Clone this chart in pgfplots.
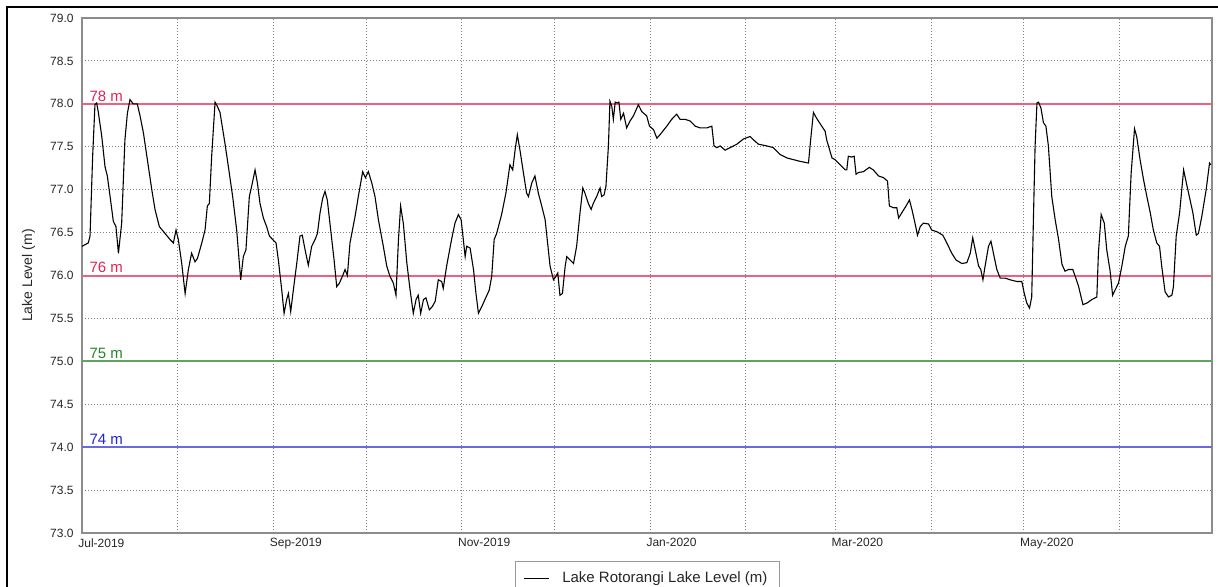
\documentclass[border=0pt]{standalone}
\usepackage{pgfplots}
\pgfplotsset{compat=1.18}
\usepackage{fontspec}
\setmainfont{Liberation Sans}

\definecolor{refred}{RGB}{226,36,84}
\definecolor{redline}{RGB}{236,96,128}
\definecolor{refgreen}{RGB}{40,130,40}
\definecolor{greenline}{RGB}{95,165,95}
\definecolor{refblue}{RGB}{35,35,210}
\definecolor{blueline}{RGB}{105,105,230}

% lake level, x = days since 1 Jul 2019
\pgfplotstableread{
day level
0 76.34
2.05 76.38
2.6 76.46
3.45 77.39
4.2 77.99
4.75 78.01
5.3 77.90
6.4 77.62
7.45 77.27
8.2 77.16
9.1 76.92
10.15 76.63
11.0 76.57
11.8 76.26
12.85 76.61
13.9 77.58
14.7 77.89
15.55 78.05
16.6 78.00
17.9 78.00
18.8 77.86
19.9 77.66
21.5 77.27
22.6 77.00
23.65 76.77
25.05 76.57
26.9 76.49
28.5 76.42
29.6 76.38
30.45 76.53
31.2 76.42
32.3 76.14
33.4 75.79
34.45 76.07
35.5 76.26
36.6 76.16
37.4 76.20
38.8 76.38
39.85 76.53
40.6 76.81
41.25 76.84
42.0 77.39
43.1 78.02
43.85 77.97
44.7 77.90
46.3 77.54
47.4 77.27
48.8 76.92
50.1 76.53
51.4 75.95
52.25 76.22
53.1 76.30
54.2 76.92
54.95 77.04
56.05 77.23
56.8 77.08
57.65 76.84
58.75 76.67
59.8 76.57
60.7 76.46
61.75 76.42
62.85 76.38
63.6 76.18
64.7 75.83
65.45 75.56
66.3 75.72
66.85 75.79
67.6 75.58
68.45 75.83
69.55 76.14
70.6 76.46
71.35 76.47
72.25 76.30
73.3 76.12
74.4 76.34
75.5 76.42
76.25 76.49
77.1 76.73
77.95 76.90
78.7 76.98
79.45 76.88
80.55 76.53
81.65 76.18
82.5 75.87
83.35 75.91
84.45 76.00
85.2 76.07
85.95 76.00
86.8 76.38
88.45 76.69
89.5 76.92
90.9 77.21
91.8 77.14
92.75 77.21
93.85 77.08
94.9 76.92
96.0 76.65
97.6 76.34
98.7 76.11
99.75 75.99
100.85 75.91
101.7 75.77
102.5 76.42
103.2 76.81
104.1 76.60
105.2 76.15
106.2 75.85
107.3 75.56
108.2 75.72
108.9 75.77
109.7 75.56
110.6 75.72
111.4 75.74
112.5 75.60
113.5 75.64
114.4 75.70
115.4 75.95
116.5 75.93
117.0 75.85
118.1 76.11
119.7 76.42
120.8 76.61
121.9 76.71
122.8 76.65
123.5 76.42
124.1 76.22
124.6 76.34
125.7 76.32
126.8 76.07
127.6 75.79
128.4 75.56
129.5 75.64
130.5 75.72
131.9 75.83
132.7 75.99
133.5 76.42
134.3 76.49
135.9 76.71
137.3 76.96
138.6 77.29
139.5 77.23
140.3 77.47
141.0 77.64
141.9 77.45
143.0 77.19
144.0 76.96
144.6 76.92
145.7 77.08
146.7 77.16
147.8 76.96
148.9 76.81
150.0 76.65
150.8 76.38
151.6 76.11
152.7 75.95
153.5 75.99
154.1 76.03
154.8 75.77
155.6 75.79
156.5 76.11
157.0 76.22
158.1 76.18
159.2 76.14
160.2 76.34
161.3 76.73
162.2 77.02
162.9 76.96
164.0 76.84
164.9 76.77
165.6 76.84
166.7 76.92
167.8 77.02
168.3 76.92
169.1 76.94
169.7 77.04
170.5 77.51
171.0 78.03
171.6 77.97
172.1 77.82
172.7 78.02
173.4 78.01
173.9 78.02
174.5 77.82
175.4 77.89
176.4 77.72
177.5 77.80
178.6 77.86
180.2 77.99
181.3 77.91
182.9 77.86
183.8 77.74
185.1 77.70
186.2 77.60
187.2 77.64
189.4 77.74
191.0 77.82
192.6 77.88
193.7 77.82
195.3 77.82
197.0 77.80
198.6 77.74
200.2 77.72
202.4 77.72
204.0 77.74
204.7 77.51
205.6 77.49
206.7 77.51
208.3 77.46
209.9 77.49
212.1 77.53
214.2 77.59
216.4 77.62
217.5 77.58
219.1 77.53
221.8 77.51
223.9 77.49
226.1 77.41
228.3 77.37
230.4 77.35
232.6 77.33
235.3 77.31
236.0 77.58
236.9 77.90
237.8 77.84
238.5 77.80
239.6 77.74
240.7 77.68
241.2 77.58
242.1 77.47
242.9 77.37
243.9 77.35
245.0 77.31
246.1 77.27
247.2 77.23
247.7 77.23
248.2 77.39
249.3 77.38
250.1 77.39
250.7 77.18
251.5 77.20
253.1 77.21
255.0 77.26
256.3 77.23
258.0 77.16
259.6 77.14
260.9 77.10
261.5 76.81
262.8 76.79
263.9 76.79
264.5 76.67
265.5 76.73
266.9 76.81
268.0 76.88
268.8 76.77
269.8 76.61
270.6 76.47
271.5 76.57
272.5 76.61
274.2 76.60
275.2 76.53
276.9 76.51
278.8 76.47
280.1 76.38
281.7 76.26
283.1 76.18
285.0 76.14
286.6 76.15
287.7 76.26
288.5 76.44
289.3 76.30
290.4 76.11
291.1 76.07
291.8 75.95
292.5 76.11
293.6 76.34
294.4 76.40
295.2 76.26
296.3 76.07
297.4 75.97
299.0 75.97
300.6 75.95
302.8 75.93
304.4 75.93
305.2 75.79
306.0 75.68
306.9 75.62
307.6 75.75
308.2 76.73
308.7 77.51
309.3 78.01
309.8 78.02
310.6 77.95
311.4 77.78
312.2 77.74
313.0 77.51
314.1 76.92
315.2 76.65
316.3 76.42
317.4 76.13
318.4 76.05
319.5 76.07
320.9 76.07
321.7 75.99
322.8 75.87
324.2 75.66
325.5 75.68
327.1 75.72
328.7 75.75
329.2 76.26
330.1 76.71
331.1 76.61
331.9 76.30
333.0 76.05
333.8 75.77
334.6 75.83
335.7 75.91
336.8 76.11
337.9 76.34
338.9 76.46
339.8 77.19
340.9 77.71
341.6 77.62
342.7 77.35
343.8 77.12
344.9 76.92
346.0 76.73
347.0 76.53
348.1 76.38
349.0 76.34
349.7 76.11
350.8 75.81
351.9 75.75
353.0 75.77
353.5 75.87
354.4 76.46
355.5 76.73
356.8 77.23
357.8 77.06
358.9 76.88
359.8 76.73
360.9 76.47
361.6 76.49
362.7 76.69
364.1 77.00
365.2 77.31
365.6 77.29
}\levels

\begin{document}
\begin{tikzpicture}
\useasboundingbox (0,0) rectangle (609pt,293pt);
% outer frame of the panel
\draw[line width=1pt] (3.5pt,-2pt) -- (3.5pt,289.5pt) -- (611pt,289.5pt);
\begin{axis}[
    at={(41pt,26.5pt)}, anchor=south west,
    scale only axis, width=565pt, height=257.5pt,
    xmin=0, xmax=366, ymin=73, ymax=79,
    xtick={0,31,62,92,123,153,184,215,244,275,305,336,366},
    xticklabels={Jul-2019,,Sep-2019,,Nov-2019,,Jan-2020,,Mar-2020,,May-2020,,},
    % the levels with a reference line get no dotted grid line under it
    ytick={73,73.5,74.5,75.5,76.5,77,77.5,78.5,79},
    yticklabels={73.0,73.5,74.5,75.5,76.5,77.0,77.5,78.5,79.0},
    extra y ticks={74,75,76,78},
    extra y tick labels={74.0,75.0,76.0,78.0},
    extra y tick style={grid=none},
    major tick length=0pt,
    grid=major,
    major grid style={draw=black!50, line width=0.45pt, dash pattern=on 0.5pt off 1pt},
    axis line style={draw=black!45, line width=0.6pt},
    tick label style={font=\fontsize{6}{7}\selectfont, text=black!85},
    xticklabel style={anchor=north west, inner sep=0pt, xshift=-2pt, yshift=-2.5pt},
    yticklabel style={anchor=east, inner sep=0pt, xshift=-4pt},
    ylabel={Lake Level (m)},
    ylabel style={font=\fontsize{7}{8}\selectfont, text=black!85, at={(axis description cs:-0.0473,0.5)}, anchor=center},
    legend style={at={(axis description cs:0.383,-0.0544)}, anchor=north west,
        draw=black!40, font=\fontsize{7.5}{9}\selectfont, text=black!85,
        inner xsep=4pt, inner ysep=3pt, legend cell align=left},
    legend image code/.code={\draw[#1] (0pt,0pt) -- (12.5pt,0pt); \path (17pt,0pt);},
]
\addplot[draw=redline, no marks, line width=1pt, forget plot] coordinates {(0,78) (366,78)};
\addplot[draw=redline, no marks, line width=1pt, forget plot] coordinates {(0,76) (366,76)};
\addplot[draw=greenline, no marks, line width=1pt, forget plot] coordinates {(0,75) (366,75)};
\addplot[draw=blueline, no marks, line width=1pt, forget plot] coordinates {(0,74) (366,74)};
\addplot[draw=black, no marks, line width=0.55pt] table[x=day, y=level] {\levels};
\addlegendentry{Lake Rotorangi Lake Level (m)}
\node[anchor=base west, inner sep=0pt, text=refred, font=\fontsize{7.5}{9}\selectfont] at (axis cs:2.3,78.03) {78 m};
\node[anchor=base west, inner sep=0pt, text=refred, font=\fontsize{7.5}{9}\selectfont] at (axis cs:2.3,76.03) {76 m};
\node[anchor=base west, inner sep=0pt, text=refgreen, font=\fontsize{7.5}{9}\selectfont] at (axis cs:2.3,75.03) {75 m};
\node[anchor=base west, inner sep=0pt, text=refblue, font=\fontsize{7.5}{9}\selectfont] at (axis cs:2.3,74.03) {74 m};
\end{axis}
\end{tikzpicture}
\end{document}
